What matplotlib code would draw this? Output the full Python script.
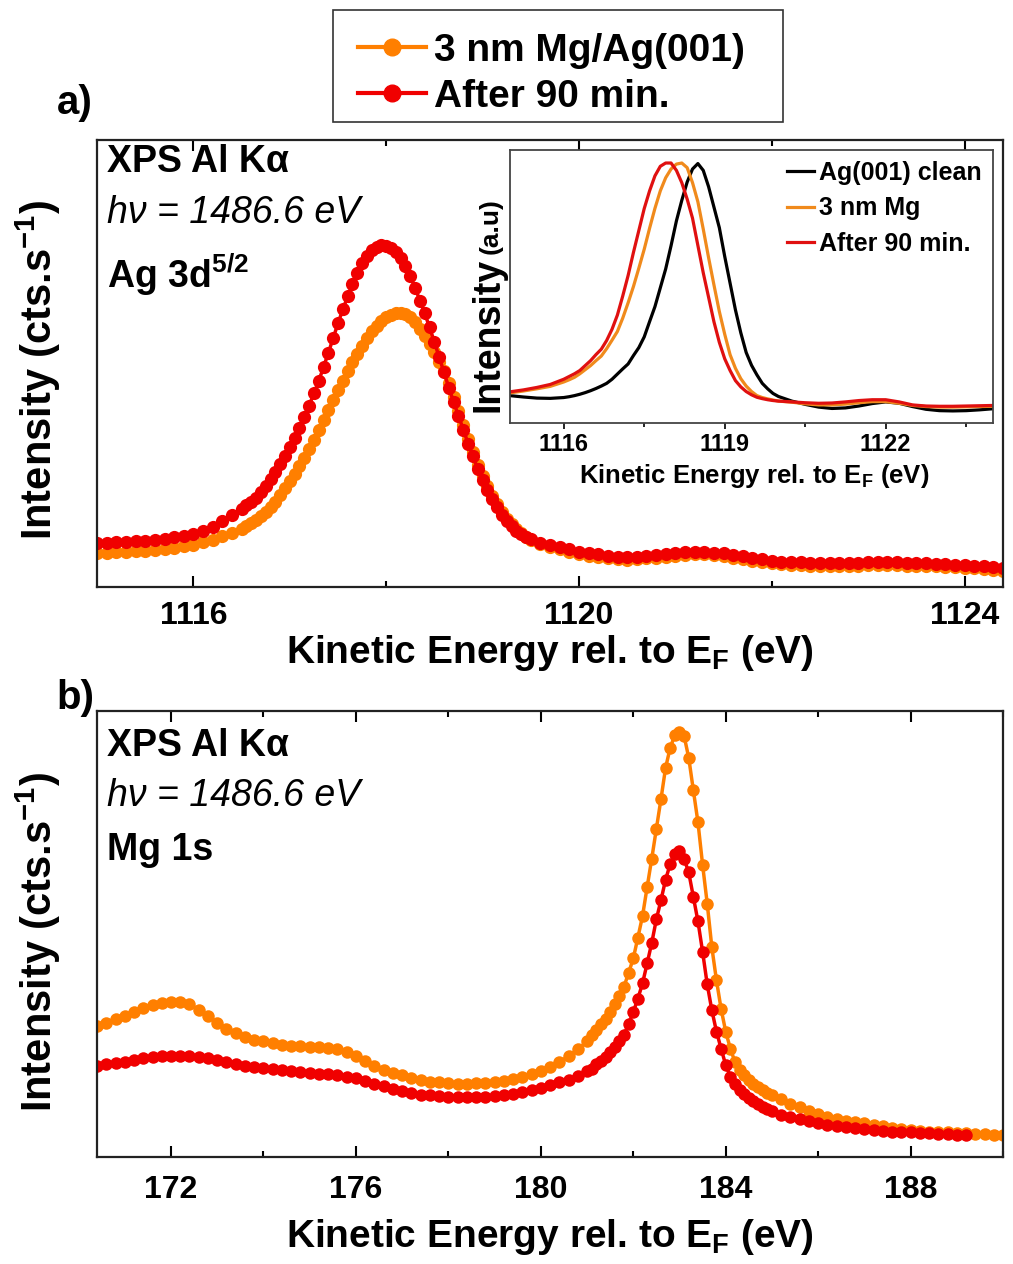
# XPS Ag 3d / Mg 1s comparison plot

import numpy as np
import matplotlib
matplotlib.use("Agg")
import matplotlib.pyplot as plt
from matplotlib.lines import Line2D
from matplotlib.patches import Rectangle
from matplotlib.ticker import MultipleLocator

plt.rcParams['font.family'] = ['Liberation Sans', 'DejaVu Sans']
plt.rcParams['mathtext.fontset'] = 'custom'
plt.rcParams['mathtext.rm'] = 'Liberation Sans'
plt.rcParams['mathtext.bf'] = 'Liberation Sans:bold'
plt.rcParams['mathtext.it'] = 'Liberation Sans:italic'

ORANGE = "#ff7f00"
RED = "#f00000"

# ---------------- panel a) Ag 3d5/2 (arb. units) ----------------
ag_energy = np.concatenate([np.linspace(1115.0, 1116.5, 16),
                            np.linspace(1116.55, 1119.5, 60),
                            np.linspace(1119.6, 1124.4, 49)])

ag_mg = [7.6, 7.7, 7.8, 7.9, 8.0, 8.1, 8.3, 8.5, 8.8, 9.1, 9.5, 10.0, 10.6, 11.3, 12.1, 13.0,
         13.6, 14.3, 15.0, 15.8, 16.8, 17.9, 19.1, 20.5, 22.1,
         23.7, 25.3, 27.0, 28.9, 30.9, 33.0, 35.1, 37.3, 39.5, 41.8,
         44.0, 46.2, 48.3, 50.3, 52.2, 54.0, 55.7, 57.2, 58.5, 59.5,
         60.3, 60.9, 61.2, 61.3, 61.0, 60.3, 59.2, 57.8, 56.2, 54.4,
         52.5, 50.3, 48.4, 45.6, 42.5, 39.3, 36.2, 33.1, 30.2, 27.4,
         24.9, 22.6, 20.4, 18.5, 16.8, 15.3, 14.0, 12.9, 12.0, 11.2, 10.6,
         9.6, 9.0, 8.4, 7.9,
         7.4, 7.0, 6.7, 6.4, 6.2, 6.1, 6.2, 6.4, 6.6, 6.8,
         7.0, 7.2, 7.3, 7.3, 7.1, 6.9, 6.6, 6.3, 5.9, 5.6,
         5.3, 5.1, 5.0, 4.9, 4.8, 4.8, 4.8, 4.8, 4.8, 4.8,
         4.9, 4.9, 4.9, 4.9, 4.8, 4.8, 4.7, 4.6, 4.5, 4.4,
         4.3, 4.2, 4.0, 3.8, 3.6]

ag_90min = [9.8, 9.9, 10.0, 10.1, 10.2, 10.4, 10.5, 10.8, 11.1, 11.4, 11.8, 12.6, 13.5, 14.8, 16.1, 17.5,
            18.3, 19.1, 19.9, 21.2, 22.7, 24.2, 25.8, 27.5, 29.4,
            31.3, 33.4, 35.6, 38.0, 40.6, 43.3, 46.1, 49.2, 52.4, 55.7,
            59.0, 62.1, 65.0, 67.8, 70.3, 72.4, 74.1, 75.3, 76.1, 76.5,
            76.4, 75.9, 75.0, 73.7, 71.8, 69.5, 66.9, 64.1, 61.2, 58.1,
            54.8, 51.4, 48.0, 44.6, 41.4, 38.3, 35.2, 32.1, 29.2, 26.5,
            24.0, 21.7, 19.6, 17.8, 16.2, 14.8, 13.6, 12.6, 11.8, 11.2, 10.7,
            9.9, 9.4, 8.9, 8.4,
            7.9, 7.6, 7.3, 7.0, 6.8, 6.7, 6.8, 7.0, 7.2, 7.4,
            7.6, 7.8, 7.9, 7.9, 7.7, 7.5, 7.2, 6.9, 6.5, 6.2,
            5.9, 5.7, 5.6, 5.5, 5.4, 5.4, 5.4, 5.4, 5.4, 5.4,
            5.5, 5.5, 5.5, 5.5, 5.4, 5.4, 5.3, 5.2, 5.1, 5.0,
            4.9, 4.8, 4.6, 4.4, 4.2]

# ---------------- inset: normalised Ag 3d lines ----------------
inset_energy = np.concatenate([np.linspace(1115.0, 1115.75, 4),
                               np.linspace(1116.0, 1120.0, 41),
                               np.linspace(1120.25, 1124.0, 16)])

inset_clean = [0.100, 0.095, 0.091, 0.090,
               0.093, 0.096, 0.100, 0.105, 0.111, 0.118, 0.126, 0.135, 0.145, 0.160,
               0.179, 0.198, 0.216, 0.247, 0.276, 0.315, 0.371, 0.426, 0.495, 0.564,
               0.649, 0.740, 0.815, 0.882, 0.930, 0.950, 0.925, 0.865, 0.790, 0.715,
               0.610, 0.512, 0.414, 0.330, 0.258, 0.211, 0.176, 0.145, 0.125, 0.108,
               0.097,
               0.080, 0.068, 0.058, 0.053, 0.055, 0.062, 0.071, 0.077,
               0.072, 0.060, 0.050, 0.045, 0.044, 0.045, 0.048, 0.052]

inset_mg = [0.110, 0.117, 0.125, 0.134,
            0.150, 0.158, 0.167, 0.180, 0.195, 0.210, 0.228, 0.245, 0.272, 0.303,
            0.335, 0.384, 0.440, 0.500, 0.567, 0.636, 0.713, 0.786, 0.850, 0.898,
            0.930, 0.948, 0.952, 0.935, 0.880, 0.810, 0.710, 0.605, 0.505, 0.408,
            0.325, 0.250, 0.200, 0.162, 0.135, 0.115, 0.100, 0.093, 0.088, 0.084,
            0.080,
            0.076, 0.070, 0.066, 0.066, 0.069, 0.074, 0.078, 0.078,
            0.072, 0.064, 0.060, 0.058, 0.058, 0.059, 0.060, 0.061]

inset_90min = [0.114, 0.121, 0.130, 0.141,
               0.160, 0.170, 0.180, 0.192, 0.210, 0.228, 0.250, 0.270, 0.302, 0.343,
               0.395, 0.465, 0.540, 0.625, 0.705, 0.785, 0.850, 0.905, 0.940, 0.952,
               0.952, 0.925, 0.880, 0.820, 0.750, 0.650, 0.550, 0.460, 0.370, 0.295,
               0.235, 0.192, 0.155, 0.132, 0.115, 0.103, 0.094, 0.089, 0.085, 0.082,
               0.080,
               0.077, 0.074, 0.072, 0.073, 0.077, 0.082, 0.085, 0.085,
               0.077, 0.066, 0.062, 0.061, 0.061, 0.062, 0.063, 0.064]

inset_labels = ["Ag(001) clean", "3 nm Mg", "After 90 min."]

# ---------------- panel b) Mg 1s (arb. units) ----------------
mg_energy = np.concatenate([np.linspace(170.4, 181.0, 54),
                            np.linspace(181.1, 185.0, 40),
                            np.linspace(185.2, 190.0, 25)])

mg_mg = [29.4, 30.1, 30.9,
         31.6, 32.5, 33.4, 34.0, 34.5,
         34.8, 34.8, 34.3, 33.0, 31.6,
         30.1, 28.8, 27.8, 26.9, 26.3,
         25.9, 25.5, 25.2, 24.9, 24.8,
         24.7, 24.6, 24.4, 24.1, 23.5,
         22.6, 21.5, 20.4, 19.6, 18.9,
         18.3, 17.7, 17.2, 16.9, 16.7,
         16.5, 16.4, 16.4, 16.5, 16.6,
         16.8, 17.1, 17.4, 17.9, 18.6,
         19.3, 20.2, 21.3, 22.6, 24.1,
         26.0,
         27.3, 28.5, 29.7, 31.0, 32.6, 34.3, 36.0, 38.2, 41.3,
         44.5, 49.2, 54.0, 60.5, 66.9, 73.6, 80.3, 87.3, 91.8, 94.6,
         95.3, 94.4, 89.5, 82.2, 75.0, 65.5, 56.8, 47.0, 39.6, 33.2,
         28.1, 24.3, 21.3, 19.5, 18.3, 17.3, 16.4, 15.7, 15.0, 14.4,
         13.8,
         12.9, 11.9, 11.1, 10.4,
         9.6, 9.0, 8.5, 8.1, 7.8,
         7.5, 7.2, 6.9, 6.5, 6.3,
         6.1, 5.9, 5.7, 5.6, 5.5,
         5.4, 5.3, 5.2, 5.1, 5.0,
         4.9]

mg_90min = [20.4, 20.8, 21.1,
            21.4, 21.8, 22.1, 22.4, 22.6,
            22.7, 22.7, 22.6, 22.5, 22.2,
            21.7, 21.3, 20.9, 20.5, 20.2,
            19.9, 19.7, 19.5, 19.3, 19.1,
            18.9, 18.7, 18.5, 18.3, 18.0,
            17.6, 17.0, 16.4, 15.8, 15.3,
            14.8, 14.4, 14.0, 13.8, 13.6,
            13.5, 13.4, 13.4, 13.4, 13.5,
            13.6, 13.8, 14.1, 14.5, 15.0,
            15.5, 16.1, 16.7, 17.3, 18.1,
            19.2,
            19.8, 20.8, 21.6, 22.5, 23.6, 24.7, 25.9, 27.4, 29.9,
            32.5, 35.5, 38.9, 43.4, 48.0, 53.3, 57.6, 62.2, 65.7, 67.9,
            68.5, 66.8, 63.8, 58.3, 52.8, 46.0, 38.7, 32.9, 28.1, 24.3,
            20.6, 18.0, 16.3, 15.1, 14.1, 13.3, 12.6, 11.9, 11.3, 10.8,
            10.3,
            9.5, 8.9, 8.4, 8.0,
            7.6, 7.2, 7.0, 6.7, 6.5,
            6.3, 6.1, 5.9, 5.7, 5.6,
            5.5, 5.4, 5.3, 5.2, 5.1,
            5.0, 4.9]

series_labels = ["3 nm Mg/Ag(001)", "After 90 min."]

XLABEL = r"Kinetic Energy rel. to E$_\mathbf{F}$ (eV)"
YLABEL = r"Intensity (cts.s$^\mathbf{-1}$)"


def style_main(ax, xlim, pad):
    ax.set_xlim(xlim)
    ax.set_ylim(0, 100)
    ax.set_yticks([])
    ax.xaxis.set_major_locator(MultipleLocator(4))
    ax.xaxis.set_minor_locator(MultipleLocator(2))
    ax.tick_params(axis='x', which='both', direction='in', top=True, width=1.5, pad=pad)
    ax.tick_params(axis='x', which='major', length=8, labelsize=23)
    ax.tick_params(axis='x', which='minor', length=4)
    for sp in ax.spines.values():
        sp.set_linewidth(1.6)
        sp.set_color('#222222')


def panel_text(ax, ys, third):
    ax.text(0.011, ys[0], "XPS Al K\u03b1", transform=ax.transAxes, fontsize=27,
            fontweight='bold', va='center', ha='left')
    ax.text(0.011, ys[1], "h\u03bd = 1486.6 eV", transform=ax.transAxes, fontsize=27,
            fontstyle='italic', va='center', ha='left')
    ax.text(0.011, ys[2], third, transform=ax.transAxes, fontsize=27,
            fontweight='bold', va='center', ha='left')


def main():
    fig = plt.figure(figsize=(10.13, 12.64), dpi=100)

    # panel a
    ax_a = fig.add_axes([0.0958, 0.5356, 0.8944, 0.3536])
    ax_a.plot(ag_energy, ag_mg, '-o', color=ORANGE, lw=2.5, ms=9.5, mew=0)
    ax_a.plot(ag_energy, ag_90min, '-o', color=RED, lw=2.5, ms=9.5, mew=0)
    style_main(ax_a, (1115.0, 1124.4), 10)
    ax_a.set_xticks([1116, 1120, 1124])
    panel_text(ax_a, [0.951, 0.837, 0.698], r"Ag 3d$^\mathbf{5/2}$")

    # inset
    ax_in = fig.add_axes([0.5035, 0.6654, 0.4768, 0.2160])
    ax_in.plot(inset_energy, inset_clean, color='black', lw=2.3, label=inset_labels[0])
    ax_in.plot(inset_energy, inset_mg, color='#f08a1c', lw=2.3, label=inset_labels[1])
    ax_in.plot(inset_energy, inset_90min, color='#e01010', lw=2.3, label=inset_labels[2])
    ax_in.set_xlim(1115.0, 1124.0)
    ax_in.set_ylim(0, 1)
    ax_in.set_yticks([])
    ax_in.xaxis.set_minor_locator(MultipleLocator(1.5))
    ax_in.set_xticks([1116, 1119, 1122])
    ax_in.tick_params(axis='x', which='both', direction='out', width=1.2, pad=3, labelsize=17)
    ax_in.tick_params(axis='x', which='major', length=4)
    ax_in.tick_params(axis='x', which='minor', length=3)
    for sp in ax_in.spines.values():
        sp.set_linewidth(1.3)
        sp.set_color('#444444')
    ax_in.legend(loc='upper right', frameon=False, handlelength=1.1,
                 handletextpad=0.2, labelspacing=0.45, borderaxespad=0.05,
                 prop={'size': 18, 'weight': 'bold'})
    fig.text(0.744, 1 - 483 / 1264, XLABEL, fontsize=18.5, fontweight='bold',
             ha='center', va='baseline')
    fig.text(488 / 1013, 1 - 335 / 1264, "Intensity", fontsize=27, fontweight='bold',
             rotation=90, ha='center', va='center')
    fig.text(491 / 1013, 1 - 226 / 1264, "(a.u)", fontsize=19, fontweight='bold',
             rotation=90, ha='center', va='center')

    # panel b
    ax_b = fig.add_axes([0.0958, 0.0847, 0.8944, 0.3528])
    ax_b.plot(mg_energy, mg_mg, '-o', color=ORANGE, lw=2.5, ms=9, mew=0)
    ax_b.plot(mg_energy[:len(mg_90min)], mg_90min, '-o', color=RED, lw=2.5, ms=9, mew=0)
    style_main(ax_b, (170.4, 190.0), 13)
    ax_b.set_xticks([172, 176, 180, 184, 188])
    panel_text(ax_b, [0.921, 0.809, 0.688], "Mg 1s")

    for ax in [ax_a, ax_b, ax_in]:
        for lab in ax.get_xticklabels():
            lab.set_fontweight('bold')

    # axis labels and panel letters
    fig.text(0.543, 1 - 663 / 1264, XLABEL, fontsize=28, fontweight='bold',
             ha='center', va='baseline')
    fig.text(0.543, 1 - 1247 / 1264, XLABEL, fontsize=28, fontweight='bold',
             ha='center', va='baseline')
    fig.text(38 / 1013, 1 - 370 / 1264, YLABEL, fontsize=30, fontweight='bold',
             rotation=90, ha='center', va='center')
    fig.text(38 / 1013, 1 - 942 / 1264, YLABEL, fontsize=30, fontweight='bold',
             rotation=90, ha='center', va='center')
    fig.text(75 / 1013, 1 - 103 / 1264, "a)", fontsize=29, fontweight='bold',
             ha='center', va='center')
    fig.text(75 / 1013, 1 - 698 / 1264, "b)", fontsize=29, fontweight='bold',
             ha='center', va='center')

    # top legend: frame drawn as a separate box
    box = Rectangle((333 / 1013, 1 - 122 / 1264), 450 / 1013, 112 / 1264,
                    transform=fig.transFigure, facecolor='white', edgecolor='#333333',
                    lw=1.2)
    fig.patches.append(box)
    handles = [Line2D([], [], color=ORANGE, marker='o', ms=12, lw=3),
               Line2D([], [], color=RED, marker='o', ms=12, lw=3)]
    fig.legend(handles, series_labels, loc='upper left',
               bbox_to_anchor=(358 / 1013, 1 - 33 / 1264), frameon=False,
               handlelength=1.75, handletextpad=0.2, labelspacing=0.25,
               borderpad=0, borderaxespad=0, prop={'size': 28, 'weight': 'bold'})

    plt.savefig("out.png", dpi=100)
    plt.close('all')


if __name__ == "__main__":
    main()
